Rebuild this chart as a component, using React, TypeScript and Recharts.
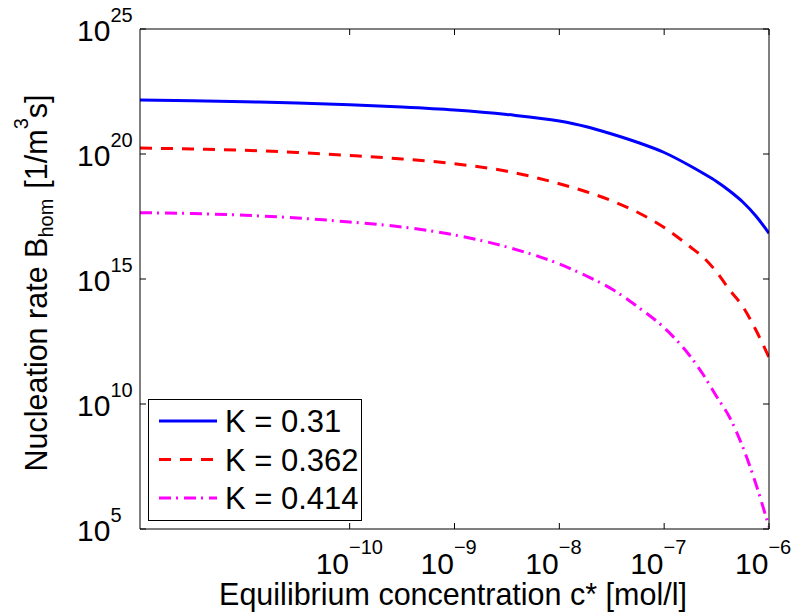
import React from "react";
import { LineChart, Line, XAxis, YAxis, Legend } from "recharts";

// log10 of equilibrium concentration c* [mol/l]
const concExp = [-12, -11.5, -11, -10.5, -10, -9.5, -9, -8.5, -8, -7.75, -7.5, -7.25, -7, -6.75, -6.625, -6.5, -6.375, -6.25, -6.125, -6];
// log10 of nucleation rate for each K
const rateK031 = [22.16, 22.13, 22.09, 22.04, 21.97, 21.88, 21.76, 21.58, 21.32, 21.1, 20.8, 20.46, 20.06, 19.52, 19.22, 18.9, 18.52, 18.08, 17.52, 16.83];
const rateK0362 = [20.24, 20.2, 20.15, 20.06, 19.94, 19.8, 19.61, 19.31, 18.81, 18.5, 18.13, 17.66, 17.06, 16.28, 15.86, 15.28, 14.56, 13.9, 12.96, 11.86];
const rateK0414 = [17.65, 17.62, 17.55, 17.44, 17.28, 17.08, 16.76, 16.28, 15.6, 15.14, 14.6, 13.88, 13.05, 11.9, 11.16, 10.3, 9.46, 8.28, 6.8, 5.08];

const xTickExp = [-10, -9, -8, -7, -6];
const xTickLabels = ["\u221210", "\u22129", "\u22128", "\u22127", "\u22126"];
const yTickExp = [5, 10, 15, 20, 25];
const yTickLabels = ["5", "10", "15", "20", "25"];

const seriesNames = ["K = 0.31", "K = 0.362", "K = 0.414"];
const seriesKeys = ["k031", "k0362", "k0414"];
const seriesColors = ["#0000ff", "#ff0000", "#ff00ff"];
const seriesDash = [undefined, "12 9", "12 5 2 6"];

const data = concExp.map((e, i) => ({
  c: Math.pow(10, e),
  k031: Math.pow(10, rateK031[i]),
  k0362: Math.pow(10, rateK0362[i]),
  k0414: Math.pow(10, rateK0414[i]),
}));

const xTicks = xTickExp.map((e) => Math.pow(10, e));
const yTicks = yTickExp.map((e) => Math.pow(10, e));

const FONT = "'Liberation Sans', Arial, Helvetica, sans-serif";
const TICK_LEN = 6;

const BottomTick = (props: any) => {
  const { x, y, index } = props;
  return (
    <g>
      <line x1={x} y1={y} x2={x} y2={y - TICK_LEN} stroke="#000" />
      <text x={x - 34} y={y + 45} fontSize={30} fontFamily={FONT} fill="#000">
        10
        <tspan dy={-20} fontSize={20}>{xTickLabels[index]}</tspan>
      </text>
    </g>
  );
};

const TopTick = (props: any) => {
  const { x, y } = props;
  return <line x1={x} y1={y} x2={x} y2={y + TICK_LEN} stroke="#000" />;
};

const LeftTick = (props: any) => {
  const { x, y, index } = props;
  return (
    <g>
      <line x1={x} y1={y} x2={x + TICK_LEN} y2={y} stroke="#000" />
      <text x={77} y={y + 12} fontSize={30} fontFamily={FONT} fill="#000">
        10
        <tspan dy={-19} fontSize={20}>{yTickLabels[index]}</tspan>
      </text>
    </g>
  );
};

const RightTick = (props: any) => {
  const { x, y } = props;
  return <line x1={x} y1={y} x2={x - TICK_LEN} y2={y} stroke="#000" />;
};

const XTitle = () => (
  <text x={453} y={605} textAnchor="middle" fontSize={30.5} fontFamily={FONT} fill="#000">
    Equilibrium concentration c* [mol/l]
  </text>
);

const YTitle = () => (
  <text transform="rotate(-90)" x={-283} y={47} textAnchor="middle" fontSize={30.5} fontFamily={FONT} fill="#000">
    Nucleation rate B
    <tspan dy={6} fontSize={20}>hom</tspan>
    <tspan dy={-6} dx={10}>[1/m</tspan>
    <tspan dy={-19} fontSize={20}>3</tspan>
    <tspan dy={19}>s]</tspan>
  </text>
);

const LegendBox = () => (
  <div
    style={{
      width: 214,
      height: 122,
      boxSizing: "border-box",
      border: "1px solid #000",
      background: "#fff",
    }}
  >
    <svg width={212} height={120} style={{ display: "block" }}>
      {seriesNames.map((name, i) => {
        const cy = 21 + i * 38.5;
        return (
          <g key={name}>
            <line
              x1={10}
              x2={68}
              y1={cy}
              y2={cy}
              stroke={seriesColors[i]}
              strokeWidth={3}
              strokeDasharray={seriesDash[i]}
            />
            <text x={76} y={cy + 11} fontSize={31} fontFamily={FONT} fill="#000">
              {name}
            </text>
          </g>
        );
      })}
    </svg>
  </div>
);

const axisCommon = {
  type: "number" as const,
  scale: "log" as const,
  allowDataOverflow: true,
  interval: 0 as const,
  tickSize: 0,
  tickMargin: 0,
  tickLine: false,
  axisLine: { stroke: "#000" },
};

export default function App() {
  return (
    <div style={{ position: "absolute", left: 0, top: 0, width: 803, height: 616, background: "#fff" }}>
      <LineChart width={803} height={616} data={data} margin={{ top: 28, right: 33, bottom: 86, left: 139 }}>
        <XAxis
          {...axisCommon}
          dataKey="c"
          domain={[1e-12, 1e-6]}
          ticks={xTicks}
          height={1}
          tick={BottomTick}
          label={XTitle}
        />
        <XAxis
          {...axisCommon}
          xAxisId="top"
          orientation="top"
          dataKey="c"
          domain={[1e-12, 1e-6]}
          ticks={xTicks}
          height={1}
          tick={TopTick}
        />
        <YAxis
          {...axisCommon}
          domain={[1e5, 1e25]}
          ticks={yTicks}
          width={1}
          tick={LeftTick}
          label={YTitle}
        />
        <YAxis
          {...axisCommon}
          yAxisId="right"
          orientation="right"
          domain={[1e5, 1e25]}
          ticks={yTicks}
          width={1}
          tick={RightTick}
        />
        <Legend
          layout="horizontal"
          verticalAlign="middle"
          align="center"
          content={LegendBox}
          wrapperStyle={{ left: 148, top: 399, width: 214, height: 122 }}
        />
        {seriesKeys.map((k, i) => (
          <Line
            key={k}
            dataKey={k}
            name={seriesNames[i]}
            type="monotone"
            stroke={seriesColors[i]}
            strokeWidth={3}
            strokeDasharray={seriesDash[i]}
            dot={false}
            activeDot={false}
            isAnimationActive={false}
          />
        ))}
      </LineChart>
    </div>
  );
}
